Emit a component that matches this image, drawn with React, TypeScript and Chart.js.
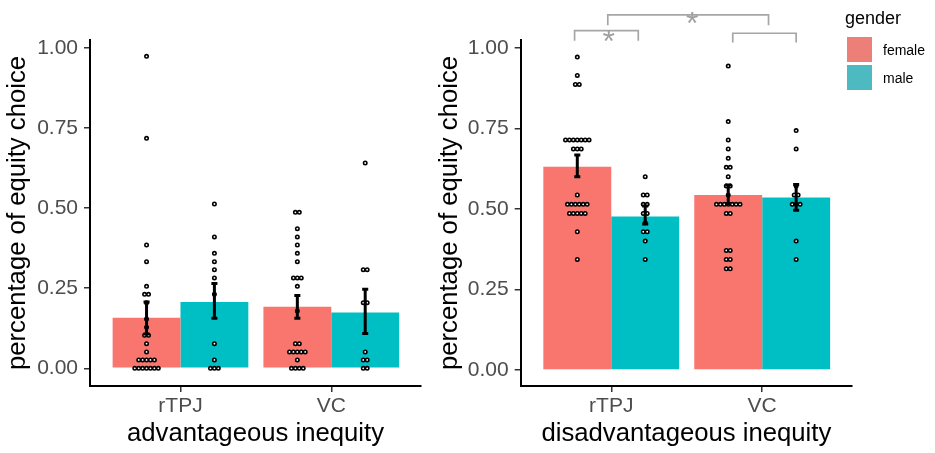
import { useEffect, useRef } from "react"
import { Chart, registerables } from "chart.js"

Chart.register(...registerables)
Chart.defaults.font.family = "'Liberation Sans', Arial, sans-serif"

const CATEGORIES = ["rTPJ", "VC"]
const GENDERS = ["female", "male"]
const Y_TICKS = [0, 0.25, 0.5, 0.75, 1]

const FEMALE_COLOR = "#F8766D"
const MALE_COLOR = "#00BFC4"

// advantageous inequity: mean and +/- SE, ordered [rTPJ, VC]
const ADV_FEMALE_MEAN = [0.158, 0.192]
const ADV_FEMALE_LOW = [0.107, 0.156]
const ADV_FEMALE_HIGH = [0.207, 0.227]
const ADV_MALE_MEAN = [0.207, 0.174]
const ADV_MALE_LOW = [0.156, 0.109]
const ADV_MALE_HIGH = [0.265, 0.247]

// disadvantageous inequity
const DIS_FEMALE_MEAN = [0.631, 0.543]
const DIS_FEMALE_LOW = [0.6, 0.517]
const DIS_FEMALE_HIGH = [0.667, 0.574]
const DIS_MALE_MEAN = [0.476, 0.535]
const DIS_MALE_LOW = [0.453, 0.496]
const DIS_MALE_HIGH = [0.509, 0.576]

// single participants: [value, how many participants share it]
type Dot = [number, number]

const ADV_RTPJ_FEMALE: Dot[] = [
  [0.974, 1], [0.718, 1], [0.385, 1], [0.333, 1], [0.256, 1], [0.231, 2], [0.205, 1],
  [0.154, 1], [0.128, 1], [0.103, 2], [0.077, 1], [0.051, 1], [0.026, 5], [0, 7],
]
const ADV_RTPJ_MALE: Dot[] = [
  [0.513, 1], [0.41, 1], [0.359, 1], [0.333, 1], [0.308, 1], [0.282, 1], [0.231, 1],
  [0.077, 1], [0.026, 1], [0, 3],
]
const ADV_VC_FEMALE: Dot[] = [
  [0.487, 2], [0.436, 1], [0.41, 1], [0.385, 1], [0.359, 1], [0.333, 1], [0.282, 3],
  [0.256, 1], [0.179, 1], [0.077, 2], [0.051, 5], [0.026, 1], [0, 4],
]
const ADV_VC_MALE: Dot[] = [
  [0.641, 1], [0.308, 2], [0.205, 2], [0.051, 1], [0.026, 2], [0, 2],
]

const DIS_RTPJ_FEMALE: Dot[] = [
  [0.971, 1], [0.914, 1], [0.886, 2], [0.714, 7], [0.686, 3], [0.543, 1], [0.514, 6],
  [0.486, 5], [0.429, 1], [0.343, 1],
]
const DIS_RTPJ_MALE: Dot[] = [
  [0.6, 1], [0.543, 2], [0.514, 2], [0.486, 2], [0.457, 1], [0.429, 2], [0.4, 1], [0.343, 1],
]
const DIS_VC_FEMALE: Dot[] = [
  [0.943, 1], [0.771, 1], [0.714, 1], [0.686, 1], [0.657, 1], [0.629, 2], [0.6, 1],
  [0.571, 2], [0.543, 1], [0.514, 7], [0.486, 2], [0.371, 2], [0.343, 2], [0.314, 2],
]
const DIS_VC_MALE: Dot[] = [
  [0.743, 1], [0.686, 1], [0.571, 1], [0.543, 2], [0.514, 3], [0.4, 1], [0.343, 1],
]

// significance brackets (axis units): [from, to, line level, tip level]
const DIS_BRACKETS = [
  [0.757, 1.179, 1.053, 1.022],
  [1.805, 2.225, 1.045, 1.016],
  [0.977, 2.042, 1.102, 1.07],
]
// asterisks: [x, y]
const DIS_STARS = [
  [0.983, 1.044],
  [1.536, 1.099],
]

const BAR_SHIFT = 0.225 // half of a bar, categoryPercentage 0.9 split in two
const DOT_STEP = 0.026
const CAP = 0.02

interface PanelSpec {
  title: string
  femaleMean: number[]
  maleMean: number[]
  femaleLow: number[]
  femaleHigh: number[]
  maleLow: number[]
  maleHigh: number[]
  dots: Dot[][][]
  yMin: number
  yMax: number
  yWidth: number
  padRight: number
  brackets: number[][]
  stars: number[][]
}

const groupX = (cat: number, gender: number) =>
  cat + 1 + (gender === 0 ? -BAR_SHIFT : BAR_SHIFT)

function dotPoints(groups: Dot[][][]) {
  const pts: { x: number; y: number }[] = []
  groups.forEach((cat, ci) =>
    cat.forEach((dots, gi) => {
      const cx = groupX(ci, gi)
      dots.forEach(([v, n]) => {
        for (let i = 0; i < n; i++) pts.push({ x: cx + (i - (n - 1) / 2) * DOT_STEP, y: v })
      })
    })
  )
  return pts
}

function buildConfig(spec: PanelSpec): any {
  const bracketSets = spec.brackets.map(([a, b, lvl, tip]) => ({
    type: "line",
    data: [
      { x: a, y: tip },
      { x: a, y: lvl },
      { x: b, y: lvl },
      { x: b, y: tip },
    ],
    borderColor: "#A6A6A6",
    borderWidth: 1.7,
    pointRadius: 0,
    tension: 0,
    fill: false,
    clip: false,
    order: 0,
  }))

  const errs: { x: number; lo: number; hi: number }[] = []
  CATEGORIES.forEach((_, ci) => {
    errs.push({ x: groupX(ci, 0), lo: spec.femaleLow[ci], hi: spec.femaleHigh[ci] })
    errs.push({ x: groupX(ci, 1), lo: spec.maleLow[ci], hi: spec.maleHigh[ci] })
  })

  const overlay = {
    id: "overlay",
    afterDatasetsDraw(chart: any) {
      const { ctx, scales } = chart
      const x = scales.x
      const y = scales.y
      ctx.save()
      ctx.strokeStyle = "#000"
      ctx.lineWidth = 3
      errs.forEach((e) => {
        const px = x.getPixelForValue(e.x)
        const half = x.getPixelForValue(e.x + CAP) - px
        const lo = y.getPixelForValue(e.lo)
        const hi = y.getPixelForValue(e.hi)
        ctx.beginPath()
        ctx.moveTo(px, lo)
        ctx.lineTo(px, hi)
        ctx.moveTo(px - half, lo)
        ctx.lineTo(px + half, lo)
        ctx.moveTo(px - half, hi)
        ctx.lineTo(px + half, hi)
        ctx.stroke()
      })
      ctx.fillStyle = "#A0A0A0"
      ctx.font = "32px 'Liberation Sans', Arial, sans-serif"
      ctx.textAlign = "center"
      ctx.textBaseline = "alphabetic"
      spec.stars.forEach(([sx, sy]) => {
        ctx.fillText("*", x.getPixelForValue(sx), y.getPixelForValue(sy) + 18)
      })
      ctx.restore()
    },
  }

  return {
    type: "bar",
    data: {
      datasets: [
        {
          type: "bar",
          label: GENDERS[0],
          data: spec.femaleMean.map((v, i) => ({ x: i + 1, y: v })),
          backgroundColor: FEMALE_COLOR,
          categoryPercentage: 0.9,
          barPercentage: 1,
          order: 2,
        },
        {
          type: "bar",
          label: GENDERS[1],
          data: spec.maleMean.map((v, i) => ({ x: i + 1, y: v })),
          backgroundColor: MALE_COLOR,
          categoryPercentage: 0.9,
          barPercentage: 1,
          order: 2,
        },
        {
          type: "scatter",
          data: dotPoints(spec.dots),
          pointRadius: 1.7,
          pointBorderWidth: 1.6,
          pointBackgroundColor: "#fff",
          pointBorderColor: "#000",
          order: 1,
        },
        ...bracketSets,
      ],
    },
    options: {
      animation: false,
      responsive: false,
      layout: { padding: { top: 40, right: spec.padRight, bottom: 0, left: 0 } },
      plugins: { legend: { display: false }, tooltip: { enabled: false } },
      scales: {
        x: {
          type: "linear",
          min: 0.4,
          max: 2.595,
          offset: false,
          afterBuildTicks: (s: any) => {
            s.ticks = CATEGORIES.map((_, i) => ({ value: i + 1 }))
          },
          afterFit: (s: any) => {
            s.height = 67
          },
          ticks: {
            callback: (_v: any, i: number) => CATEGORIES[i],
            color: "#4D4D4D",
            font: { size: 21 },
            padding: 1.5,
            autoSkip: false,
            maxRotation: 0,
          },
          grid: {
            display: true,
            offset: false,
            drawOnChartArea: false,
            drawTicks: true,
            tickLength: 6,
            color: "#333",
            lineWidth: 1.5,
          },
          border: { display: true, color: "#000", width: 2 },
          title: {
            display: true,
            text: spec.title,
            color: "#000",
            font: { size: 25.7 },
            padding: { top: 0, bottom: 4 },
          },
        },
        y: {
          type: "linear",
          min: spec.yMin,
          max: spec.yMax,
          afterBuildTicks: (s: any) => {
            s.ticks = Y_TICKS.map((v) => ({ value: v }))
          },
          afterFit: (s: any) => {
            s.width = spec.yWidth
          },
          ticks: {
            callback: (v: any) => Number(v).toFixed(2),
            color: "#4D4D4D",
            font: { size: 21 },
            padding: 6,
          },
          grid: {
            display: true,
            drawOnChartArea: false,
            drawTicks: true,
            tickLength: 6,
            color: "#333",
            lineWidth: 1.5,
          },
          border: { display: true, color: "#000", width: 2 },
          title: {
            display: true,
            text: "percentage of equity choice",
            color: "#000",
            font: { size: 25.7 },
            padding: { top: 2, bottom: 0 },
          },
        },
      },
    },
    plugins: [overlay],
  }
}

const ADV_SPEC: PanelSpec = {
  title: "advantageous inequity",
  femaleMean: ADV_FEMALE_MEAN,
  maleMean: ADV_MALE_MEAN,
  femaleLow: ADV_FEMALE_LOW,
  femaleHigh: ADV_FEMALE_HIGH,
  maleLow: ADV_MALE_LOW,
  maleHigh: ADV_MALE_HIGH,
  dots: [
    [ADV_RTPJ_FEMALE, ADV_RTPJ_MALE],
    [ADV_VC_FEMALE, ADV_VC_MALE],
  ],
  yMin: -0.0553,
  yMax: 1.025,
  yWidth: 90,
  padRight: 11,
  brackets: [],
  stars: [],
}

const DIS_SPEC: PanelSpec = {
  title: "disadvantageous inequity",
  femaleMean: DIS_FEMALE_MEAN,
  maleMean: DIS_MALE_MEAN,
  femaleLow: DIS_FEMALE_LOW,
  femaleHigh: DIS_FEMALE_HIGH,
  maleLow: DIS_MALE_LOW,
  maleHigh: DIS_MALE_HIGH,
  dots: [
    [DIS_RTPJ_FEMALE, DIS_RTPJ_MALE],
    [DIS_VC_FEMALE, DIS_VC_MALE],
  ],
  yMin: -0.0496,
  yMax: 1.024,
  yWidth: 88.7,
  padRight: 83,
  brackets: DIS_BRACKETS,
  stars: DIS_STARS,
}

function Panel({ spec, left, width }: { spec: PanelSpec; left: number; width: number }) {
  const canvasRef = useRef<HTMLCanvasElement>(null)

  useEffect(() => {
    const ctx = canvasRef.current?.getContext("2d")
    if (!ctx) return
    const chart = new Chart(ctx, buildConfig(spec))
    return () => chart.destroy()
  }, [spec])

  return (
    <canvas
      ref={canvasRef}
      width={width}
      height={453}
      style={{ position: "absolute", left, top: 0, width, height: 453 }}
    />
  )
}

const legendText = {
  position: "absolute" as const,
  fontFamily: "'Liberation Sans', Arial, sans-serif",
  lineHeight: 1,
  color: "#000",
  whiteSpace: "nowrap" as const,
}

export default function App() {
  return (
    <div
      style={{
        position: "absolute",
        left: 0,
        top: 0,
        width: 935,
        height: 453,
        background: "#fff",
        overflow: "hidden",
      }}
    >
      <Panel spec={ADV_SPEC} left={0} width={432} />
      <Panel spec={DIS_SPEC} left={432} width={503} />
      <div style={{ ...legendText, left: 845, top: 9, fontSize: 18 }}>gender</div>
      <div style={{ position: "absolute", left: 847, top: 37, width: 25, height: 25, background: "#EC8078" }} />
      <div style={{ position: "absolute", left: 847, top: 65, width: 25, height: 25, background: "#4CBAC0" }} />
      <div style={{ ...legendText, left: 883, top: 43, fontSize: 14 }}>{GENDERS[0]}</div>
      <div style={{ ...legendText, left: 883, top: 71, fontSize: 14 }}>{GENDERS[1]}</div>
    </div>
  )
}
